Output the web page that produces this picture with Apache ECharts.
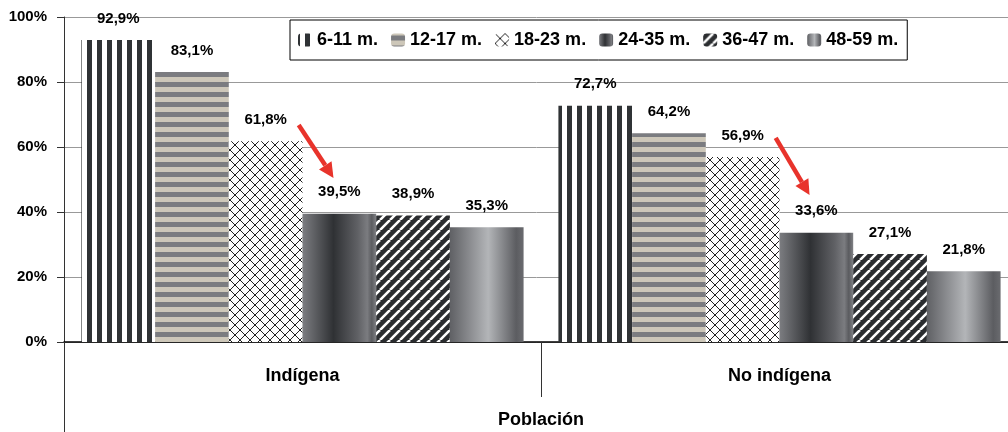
<!DOCTYPE html>
<html>
<head>
<meta charset="utf-8">
<script src="https://cdn.jsdelivr.net/npm/echarts@6/dist/echarts.min.js"></script>
<style>html,body{margin:0;padding:0;background:#fff}#c{width:1008px;height:432px}</style>
</head>
<body>
<div id="c"></div>
<script>
// ---- data ----
const categories = ['Indígena', 'No indígena'];
const seriesNames = ['6-11 m.', '12-17 m.', '18-23 m.', '24-35 m.', '36-47 m.', '48-59 m.'];
const v6_11  = [92.9, 72.7];
const v12_17 = [83.1, 64.2];
const v18_23 = [61.8, 56.9];
const v24_35 = [39.5, 33.6];
const v36_47 = [38.9, 27.1];
const v48_59 = [35.3, 21.8];
const yMin = 0, yMax = 100, yStep = 20;
const axisTitle = 'Población';

// ---- styling ----
const FONT = "'Liberation Sans', Arial, sans-serif";
function mk(w, h, draw) {
  const c = document.createElement('canvas'); c.width = w; c.height = h;
  const g = c.getContext('2d'); draw(g, w, h); return c;
}
const pVert = mk(10, 10, (g) => { g.fillStyle = '#fff'; g.fillRect(0,0,10,10); g.fillStyle = '#2f3235'; g.fillRect(7,0,3,10); g.fillRect(0,0,2,10); });
const pHorz = mk(10, 10, (g) => { g.fillStyle = '#cdc7b9'; g.fillRect(0,0,10,10); g.fillStyle = '#7b7c80'; g.fillRect(0,2,10,5); });
const pDiam = mk(10, 10, (g) => { g.fillStyle = '#fff'; g.fillRect(0,0,10,10); g.strokeStyle = '#222'; g.lineWidth = 1;
  g.beginPath(); g.moveTo(0,0); g.lineTo(10,10); g.moveTo(10,0); g.lineTo(0,10); g.stroke(); });
const pDiag = mk(10, 10, (g) => { g.fillStyle = '#2b2d30'; g.fillRect(0,0,10,10); g.strokeStyle = '#fff'; g.lineWidth = 2.6;
  g.beginPath(); for (const k of [-10, 0, 10]) { g.moveTo(k, 10); g.lineTo(k + 10, 0); } g.stroke(); });
const grad1 = new echarts.graphic.LinearGradient(0,0,1,0,[
  {offset:0,color:'#7c7d81'},{offset:0.42,color:'#2f3134'},{offset:0.75,color:'#606165'},
  {offset:0.88,color:'#7b7c80'},{offset:0.94,color:'#5a5b5f'},{offset:1,color:'#808185'}]);
const grad2 = new echarts.graphic.LinearGradient(0,0,1,0,[
  {offset:0,color:'#5f6064'},{offset:0.52,color:'#b3b5b8'},{offset:0.9,color:'#5c5d61'},{offset:1,color:'#6a6b6f'}]);
const fills = [
  {image: pVert, repeat: 'repeat'},
  {image: pHorz, repeat: 'repeat'},
  {image: pDiam, repeat: 'repeat'},
  grad1,
  {image: pDiag, repeat: 'repeat'},
  grad2
];
const values = [v6_11, v12_17, v18_23, v24_35, v36_47, v48_59];
const fmt = (v) => v.toFixed(1).replace('.', ',') + '%';

const GRID = {left: 64, top: 17, right: -10, bottom: 90, outerBoundsMode: 'none', containLabel: false};
const chart = echarts.init(document.getElementById('c'), null, {renderer: 'canvas'});
const option = {
  animation: false,
  backgroundColor: '#fff',
  textStyle: {fontFamily: FONT},
  grid: GRID,
  legend: {
    left: 290, top: 20, padding: [11, 9, 11, 8],
    borderColor: '#000', borderWidth: 1, backgroundColor: '#fff',
    itemWidth: 14, itemHeight: 13, itemGap: 13,
    textStyle: {fontSize: 18, fontWeight: 'bold', color: '#000', fontFamily: FONT},
    data: seriesNames
  },
  xAxis: {
    type: 'category', data: categories,
    axisLine: {lineStyle: {color: '#000', width: 1.5}},
    axisTick: {show: true, length: 55, lineStyle: {color: '#333'}},
    axisLabel: {fontSize: 18, fontWeight: 'bold', color: '#000', margin: 25, fontFamily: FONT},
    name: axisTitle, nameLocation: 'middle', nameGap: 69,
    nameTextStyle: {fontSize: 18, fontWeight: 'bold', color: '#000', fontFamily: FONT}
  },
  yAxis: {
    type: 'value', min: yMin, max: yMax, interval: yStep,
    axisLine: {show: true, lineStyle: {color: '#333'}},
    axisTick: {show: true, length: 7, lineStyle: {color: '#333'}},
    splitLine: {lineStyle: {color: '#999', width: 1}},
    axisLabel: {formatter: '{value}%', fontSize: 15, fontWeight: 'bold', color: '#000', margin: 17, fontFamily: FONT}
  },
  series: seriesNames.map((n, i) => ({
    name: n, type: 'bar', data: values[i],
    barGap: '0%', barCategoryGap: '7.3%',
    itemStyle: {color: fills[i]},
    label: {show: true, position: 'top', distance: 14, formatter: (p) => fmt(p.value),
      fontSize: 15, fontWeight: 'bold', color: '#000', fontFamily: FONT}
  }))
};
chart.setOption(option);

// annotation arrows (in data units: category index + fraction of band, value)
const arrows = [
  {cat: 0, f1: -0.008, v1: 66.8, f2: 0.065, v2: 50.5},
  {cat: 1, f1: -0.008, v1: 62.8, f2: 0.063, v2: 45.2}
];
const c0 = chart.convertToPixel({gridIndex: 0}, [0, 0]);
const c1 = chart.convertToPixel({gridIndex: 0}, [1, 0]);
const band = c1[0] - c0[0];
const gfx = [];
arrows.forEach((a) => {
  const p = chart.convertToPixel({gridIndex: 0}, [a.cat, a.v1]);
  const q = chart.convertToPixel({gridIndex: 0}, [a.cat, a.v2]);
  const x1 = p[0] + a.f1 * band, y1 = p[1], x2 = q[0] + a.f2 * band, y2 = q[1];
  const dx = x2 - x1, dy = y2 - y1, L = Math.hypot(dx, dy), ux = dx / L, uy = dy / L;
  const hl = 15, hw = 7.5;
  const bx = x2 - ux * hl, by = y2 - uy * hl;
  gfx.push({type: 'line', shape: {x1, y1, x2: bx, y2: by}, style: {stroke: '#e8332b', lineWidth: 4.5}, z: 10});
  gfx.push({type: 'polygon', shape: {points: [[x2, y2], [bx - uy * hw, by + ux * hw], [bx + uy * hw, by - ux * hw]]},
    style: {fill: '#e8332b'}, z: 10});
});
// extension of the vertical axis line below the category axis
const gx = GRID.left + 0.5;
gfx.push({type: 'line', shape: {x1: gx, y1: c0[1], x2: gx, y2: 432}, style: {stroke: '#333', lineWidth: 1}, z: 5});
chart.setOption({graphic: gfx});
</script>
</body>
</html>
